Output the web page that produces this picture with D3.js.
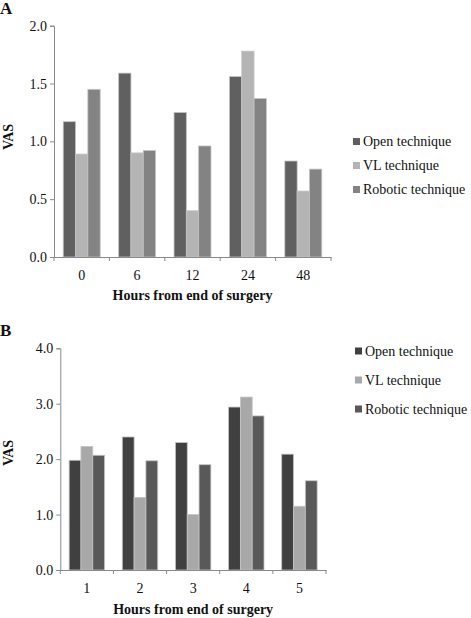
<!DOCTYPE html>
<html><head><meta charset="utf-8">
<script src="https://cdn.jsdelivr.net/npm/d3@7"></script>
<style>body{margin:0;background:#fff}svg{display:block}svg text{font-family:"Liberation Serif",Tinos,"Times New Roman",Times,"DejaVu Serif",serif}</style>
</head><body><svg id="c" width="471" height="618"></svg>
<script>
const series = ["Open technique", "VL technique", "Robotic technique"];
const catsA = ["0", "6", "12", "24", "48"];
const openA = [1.17, 1.59, 1.25, 1.56, 0.83];
const vlA = [0.89, 0.90, 0.40, 1.78, 0.57];
const roboticA = [1.45, 0.92, 0.96, 1.37, 0.76];
const ticksA = [0, 0.5, 1.0, 1.5, 2.0];
const catsB = ["1", "2", "3", "4", "5"];
const openB = [1.98, 2.40, 2.30, 2.94, 2.09];
const vlB = [2.23, 1.31, 1.00, 3.12, 1.15];
const roboticB = [2.07, 1.97, 1.90, 2.78, 1.61];
const ticksB = [0, 1, 2, 3, 4];
const xTitle = "Hours from end of surgery";
const yTitle = "VAS";

const svg = d3.select("#c");

function drawPanel(o) {
  const g = svg.append("g");
  const x0 = d3.scaleBand().domain(o.cats).range([o.x0, o.x1]).padding(0);
  const x1 = d3.scaleBand().domain(series).range([0, x0.bandwidth()]).paddingInner(0).paddingOuter(0.75);
  const y = d3.scaleLinear().domain([0, o.ymax]).range([o.yb, o.yt]);
  const vals = [o.open, o.vl, o.rob];

  series.forEach((s, si) => {
    g.selectAll(null).data(o.cats).enter().append("rect")
      .attr("x", c => x0(c) + x1(s))
      .attr("width", x1.bandwidth())
      .attr("y", (c, i) => y(vals[si][i]))
      .attr("height", (c, i) => y(0) - y(vals[si][i]))
      .attr("fill", o.colors[si])
      .attr("stroke", "#c4c4c4").attr("stroke-width", 0.8);
  });

  const ya = g.append("g").attr("transform", `translate(${o.x0},0)`)
    .call(d3.axisLeft(y).tickValues(o.ticks).tickFormat(d3.format(".1f")).tickSize(4).tickPadding(3));
  ya.attr("font-family", null).attr("font-size", null);
  ya.select(".domain").attr("stroke", "#8a8a8a");
  ya.selectAll(".tick line").attr("stroke", "#8a8a8a");
  ya.selectAll("text").style("font-size", "14px").attr("fill", "#111");

  const xa = g.append("g").attr("transform", `translate(0,${o.yb})`)
    .call(d3.axisBottom(x0).tickSize(0).tickPadding(13));
  xa.attr("font-family", null).attr("font-size", null);
  xa.select(".domain").attr("stroke", "#8a8a8a");
  xa.selectAll("text").style("font-size", "14px").attr("fill", "#111");
  const bounds = o.cats.map(c => x0(c)).concat([x0.range()[1]]);
  xa.selectAll(".btick").data(bounds).enter().append("line")
    .attr("x1", d => d).attr("x2", d => d).attr("y1", 0).attr("y2", 4)
    .attr("stroke", "#8a8a8a");

  g.append("text").attr("x", (o.x0 + o.x1) / 2).attr("y", o.titleY)
    .attr("text-anchor", "middle").attr("font-weight", "bold").style("font-size", "14px").attr("fill", "#111")
    .text(xTitle);
  g.append("text").attr("transform", `translate(13,${o.vasY}) rotate(-90)`)
    .attr("text-anchor", "middle").attr("font-weight", "bold").style("font-size", "14px").attr("fill", "#111")
    .text(yTitle);
  g.append("text").attr("x", 0).attr("y", o.letterY)
    .attr("font-weight", "bold").style("font-size", "17px").attr("fill", "#111")
    .text(o.letter);

  const lg = g.append("g");
  series.forEach((s, i) => {
    const cy = o.legY + i * o.legStep;
    lg.append("rect").attr("x", o.legX).attr("y", cy - 3.5).attr("width", 7).attr("height", 7).attr("fill", o.colors[i]);
    lg.append("text").attr("x", o.legX + 10).attr("y", cy + 4.5)
      .style("font-size", "14px").attr("fill", "#111").text(s);
  });
}

drawPanel({
  cats: catsA, open: openA, vl: vlA, rob: roboticA, ticks: ticksA, ymax: 2.0,
  x0: 54, x1: 331, yb: 257, yt: 25.7,
  colors: ["#606060", "#b4b4b4", "#838383"],
  titleY: 300, vasY: 137, letterY: 13.5, letter: "A",
  legX: 353, legY: 141.5, legStep: 24
});
drawPanel({
  cats: catsB, open: openB, vl: vlB, rob: roboticB, ticks: ticksB, ymax: 4.0,
  x0: 60.3, x1: 326, yb: 570, yt: 348.3,
  colors: ["#404040", "#a8a8a8", "#595959"],
  titleY: 614, vasY: 453, letterY: 336, letter: "B",
  legX: 355, legY: 351, legStep: 29
});
</script></body></html>
